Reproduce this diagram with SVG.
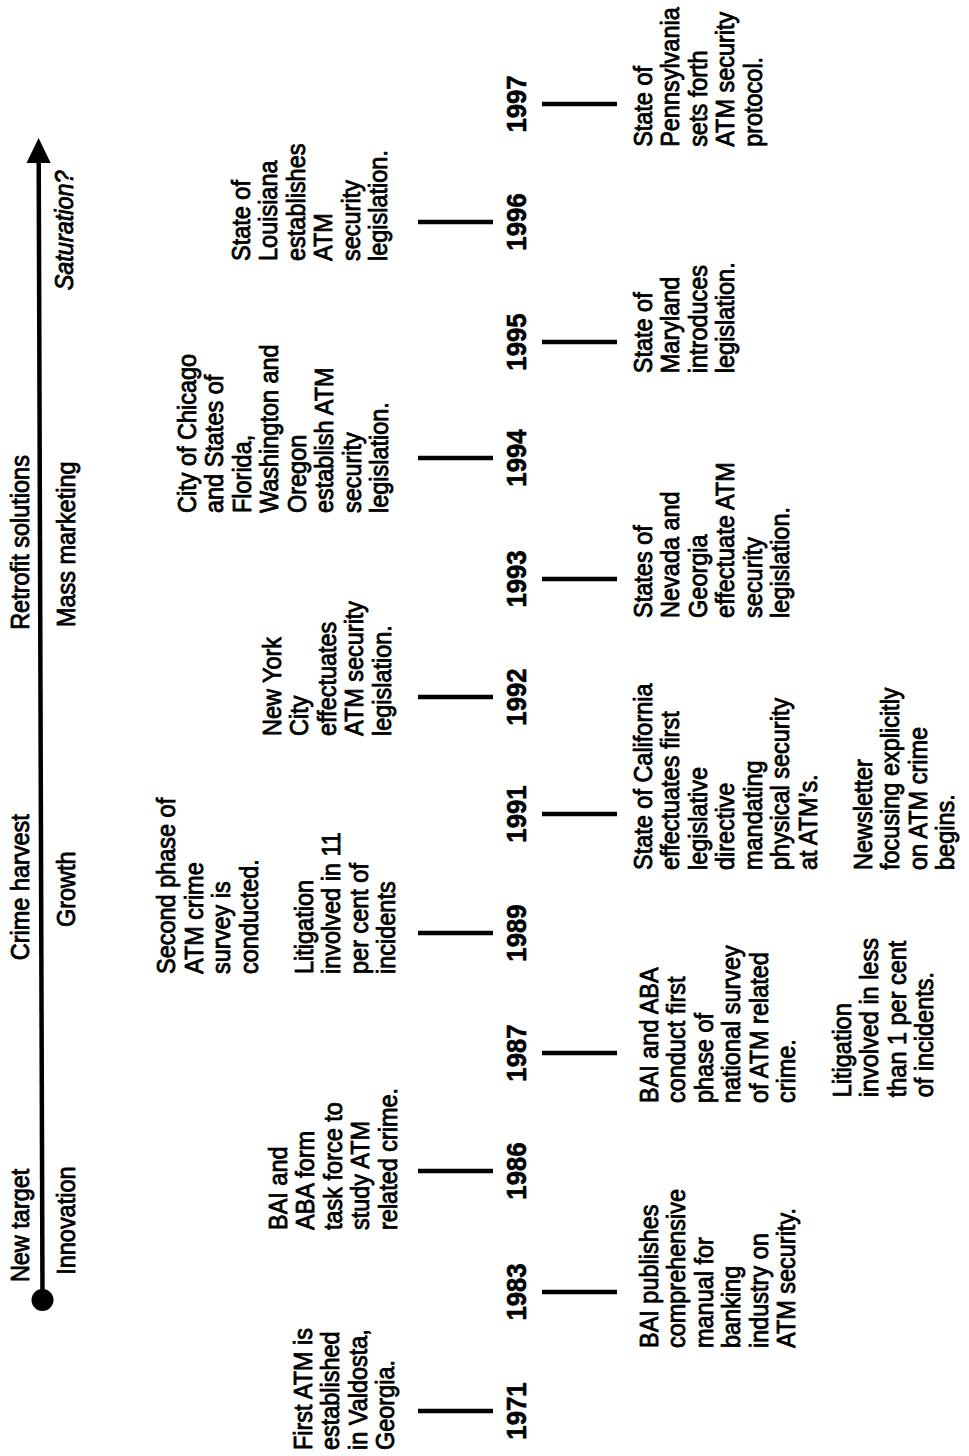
<svg xmlns="http://www.w3.org/2000/svg" width="969" height="1456" viewBox="0 0 969 1456">
<style>
.t { font-family: "Liberation Sans", Arial, Helvetica, sans-serif; font-size: 25.5px; fill: #000; stroke: #000; stroke-width: 0.85px; stroke-linejoin: round; }
.yr { font-weight: bold; font-size: 28px; text-anchor: middle; stroke-width: 0.6px; }
.it { font-style: italic; }
.tick { stroke: #000; stroke-width: 4.5; stroke-linecap: butt; }
.axis { stroke: #000; stroke-width: 4.5; fill: none; }
</style>
<rect x="0" y="0" width="969" height="1456" fill="#ffffff"/>

<g id="connectors">
  <g id="axis">
    <line class="axis" x1="42.5" y1="1300" x2="38.7" y2="158"/>
    <polygon points="38.6,138 26.5,163 50.7,163" fill="#000"/>
    <circle cx="42.5" cy="1300" r="11" fill="#000"/>
  </g>
  <g id="ticks">
    <line class="tick" x1="418" y1="1411" x2="493" y2="1411"/>
    <line class="tick" x1="542" y1="1292" x2="617" y2="1292"/>
    <line class="tick" x1="418" y1="1171" x2="493" y2="1171"/>
    <line class="tick" x1="542" y1="1053" x2="617" y2="1053"/>
    <line class="tick" x1="418" y1="933" x2="493" y2="933"/>
    <line class="tick" x1="542" y1="814" x2="617" y2="814"/>
    <line class="tick" x1="418" y1="697" x2="493" y2="697"/>
    <line class="tick" x1="542" y1="579" x2="617" y2="579"/>
    <line class="tick" x1="418" y1="458" x2="493" y2="458"/>
    <line class="tick" x1="542" y1="342" x2="617" y2="342"/>
    <line class="tick" x1="418" y1="222" x2="493" y2="222"/>
    <line class="tick" x1="542" y1="104" x2="617" y2="104"/>
  </g>
</g>

<g id="rotated" transform="translate(0,1456) rotate(-90) scale(0.92,1)">
  <g id="phases">
    <text class="t" x="189" y="29">New target</text>
    <text class="t" x="197" y="75">Innovation</text>
    <text class="t" x="539" y="29">Crime harvest</text>
    <text class="t" x="575" y="75">Growth</text>
    <text class="t" x="898" y="29">Retrofit solutions</text>
    <text class="t" x="901" y="75">Mass marketing</text>
    <text class="t it" x="1267" y="73">Saturation?</text>
  </g>

  <g id="years">
    <text class="t yr" x="48.9" y="526">1971</text>
    <text class="t yr" x="178.3" y="526">1983</text>
    <text class="t yr" x="309.8" y="526">1986</text>
    <text class="t yr" x="438" y="526">1987</text>
    <text class="t yr" x="568.5" y="526">1989</text>
    <text class="t yr" x="697.8" y="526">1991</text>
    <text class="t yr" x="825" y="526">1992</text>
    <text class="t yr" x="953.3" y="526">1993</text>
    <text class="t yr" x="1084.8" y="526">1994</text>
    <text class="t yr" x="1210.9" y="526">1995</text>
    <text class="t yr" x="1341.3" y="526">1996</text>
    <text class="t yr" x="1469.6" y="526">1997</text>
  </g>

  <g id="e1971">
    <text class="t"><tspan x="6.5" y="312">First ATM is</tspan><tspan x="6.5" dy="27.5">established</tspan><tspan x="6.5" dy="27.5">in Valdosta,</tspan><tspan x="6.5" dy="27.5">Georgia.</tspan></text>
  </g>
  <g id="e1983">
    <text class="t"><tspan x="117.4" y="658">BAI publishes</tspan><tspan x="117.4" dy="27.5">comprehensive</tspan><tspan x="117.4" dy="27.5">manual for</tspan><tspan x="117.4" dy="27.5">banking</tspan><tspan x="117.4" dy="27.5">industry on</tspan><tspan x="117.4" dy="27.5">ATM security.</tspan></text>
  </g>
  <g id="e1986">
    <text class="t"><tspan x="245.7" y="287">BAI and</tspan><tspan x="245.7" dy="27.5">ABA form</tspan><tspan x="245.7" dy="27.5">task force to</tspan><tspan x="245.7" dy="27.5">study ATM</tspan><tspan x="245.7" dy="27.5">related crime.</tspan></text>
  </g>
  <g id="e1987a">
    <text class="t"><tspan x="383.7" y="658">BAI and ABA</tspan><tspan x="383.7" dy="27.5">conduct first</tspan><tspan x="383.7" dy="27.5">phase of</tspan><tspan x="383.7" dy="27.5">national survey</tspan><tspan x="383.7" dy="27.5">of ATM related</tspan><tspan x="383.7" dy="27.5">crime.</tspan></text>
  </g>
  <g id="e1987b">
    <text class="t"><tspan x="390" y="851">Litigation</tspan><tspan x="390" dy="27.5">involved in less</tspan><tspan x="390" dy="27.5">than 1 per cent</tspan><tspan x="390" dy="27.5">of incidents.</tspan></text>
  </g>
  <g id="e1989a">
    <text class="t"><tspan x="524" y="175.5">Second phase of</tspan><tspan x="524" dy="27.5">ATM crime</tspan><tspan x="524" dy="27.5">survey is</tspan><tspan x="524" dy="27.5">conducted.</tspan></text>
  </g>
  <g id="e1989b">
    <text class="t"><tspan x="524" y="313">Litigation</tspan><tspan x="524" dy="27.5">involved in 11</tspan><tspan x="524" dy="27.5">per cent of</tspan><tspan x="524" dy="27.5">incidents</tspan></text>
  </g>
  <g id="e1991a">
    <text class="t"><tspan x="637" y="652">State of California</tspan><tspan x="637" dy="27.5">effectuates first</tspan><tspan x="637" dy="27.5">legislative</tspan><tspan x="637" dy="27.5">directive</tspan><tspan x="637" dy="27.5">mandating</tspan><tspan x="637" dy="27.5">physical security</tspan><tspan x="637" dy="27.5">at ATM’s.</tspan></text>
  </g>
  <g id="e1991b">
    <text class="t"><tspan x="637" y="872">Newsletter</tspan><tspan x="637" dy="27.5">focusing explicitly</tspan><tspan x="637" dy="27.5">on ATM crime</tspan><tspan x="637" dy="27.5">begins.</tspan></text>
  </g>
  <g id="e1992">
    <text class="t"><tspan x="782.6" y="281">New York</tspan><tspan x="782.6" dy="27.5">City</tspan><tspan x="782.6" dy="27.5">effectuates</tspan><tspan x="782.6" dy="27.5">ATM security</tspan><tspan x="782.6" dy="27.5">legislation.</tspan></text>
  </g>
  <g id="e1993">
    <text class="t"><tspan x="911" y="652">States of</tspan><tspan x="911" dy="27.5">Nevada and</tspan><tspan x="911" dy="27.5">Georgia</tspan><tspan x="911" dy="27.5">effectuate ATM</tspan><tspan x="911" dy="27.5">security</tspan><tspan x="911" dy="27.5">legislation.</tspan></text>
  </g>
  <g id="e1994">
    <text class="t"><tspan x="1025" y="196">City of Chicago</tspan><tspan x="1025" dy="27.5">and States of</tspan><tspan x="1025" dy="27.5">Florida,</tspan><tspan x="1025" dy="27.5">Washington and</tspan><tspan x="1025" dy="27.5">Oregon</tspan><tspan x="1025" dy="27.5">establish ATM</tspan><tspan x="1025" dy="27.5">security</tspan><tspan x="1025" dy="27.5">legislation.</tspan></text>
  </g>
  <g id="e1995">
    <text class="t"><tspan x="1177" y="652">State of</tspan><tspan x="1177" dy="27.5">Maryland</tspan><tspan x="1177" dy="27.5">introduces</tspan><tspan x="1177" dy="27.5">legislation.</tspan></text>
  </g>
  <g id="e1996">
    <text class="t"><tspan x="1299" y="250">State of</tspan><tspan x="1299" dy="27.5">Louisiana</tspan><tspan x="1299" dy="27.5">establishes</tspan><tspan x="1299" dy="27.5">ATM</tspan><tspan x="1299" dy="27.5">security</tspan><tspan x="1299" dy="27.5">legislation.</tspan></text>
  </g>
  <g id="e1997">
    <text class="t"><tspan x="1423" y="652">State of</tspan><tspan x="1423" dy="27.5">Pennsylvania</tspan><tspan x="1423" dy="27.5">sets forth</tspan><tspan x="1423" dy="27.5">ATM security</tspan><tspan x="1423" dy="27.5">protocol.</tspan></text>
  </g>
</g>
</svg>
